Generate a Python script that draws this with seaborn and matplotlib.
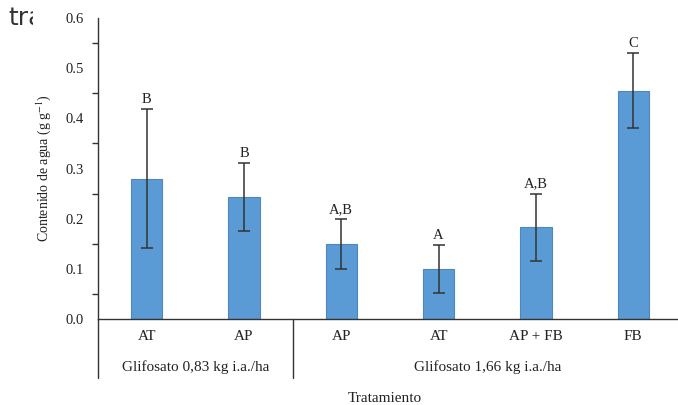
import matplotlib
matplotlib.use("Agg")
import matplotlib.pyplot as plt
import matplotlib.transforms as mtransforms
import numpy as np
import pandas as pd
import seaborn as sns

# --- data ---
tratamientos = ["AT", "AP", "AP", "AT", "AP + FB", "FB"]
grupos = ["Glifosato 0,83 kg i.a./ha", "Glifosato 1,66 kg i.a./ha"]
grupo_de_barra = [0, 0, 1, 1, 1, 1]
contenido_agua = [0.280, 0.243, 0.149, 0.099, 0.183, 0.455]
error_agua = [0.139, 0.068, 0.050, 0.048, 0.067, 0.075]
letras = ["B", "B", "A,B", "A", "A,B", "C"]

sns.set_theme(style="white")
plt.rcParams["font.family"] = ["Liberation Serif", "DejaVu Serif"]
plt.rcParams["mathtext.fontset"] = "stix"

txt = "#222222"
fig = plt.figure(figsize=(6.78, 4.05), dpi=100)
ax = fig.add_axes([98 / 678, 86 / 405, 584 / 678, 301 / 405])

df = pd.DataFrame({"pos": [str(i) for i in range(len(tratamientos))],
                   "valor": contenido_agua})
sns.barplot(data=df, x="pos", y="valor", color="#5B9BD5", saturation=1,
            width=0.32, edgecolor="#4F86BD", linewidth=0.8, ax=ax)

x = np.arange(len(tratamientos))
ax.errorbar(x, contenido_agua, yerr=error_agua, fmt="none", ecolor="#333333",
            elinewidth=1.1, capsize=4, capthick=1.1)
for xi, v, e, l in zip(x, contenido_agua, error_agua, letras):
    ax.text(xi, v + e + 0.006, l, ha="center", va="bottom", fontsize=10.5, color=txt)

ax.set_xlim(-0.5, len(tratamientos) - 0.5)
ax.set_ylim(0, 0.6)
ax.set_yticks(np.arange(0, 0.61, 0.1))
ax.set_yticklabels([f"{t:.1f}" for t in np.arange(0, 0.61, 0.1)], color=txt, fontsize=10.5)
ax.set_yticks(np.arange(0.05, 0.6, 0.1), minor=True)
ax.tick_params(axis="y", which="major", direction="inout", length=8, width=1, color="#333333", pad=6)
ax.tick_params(axis="y", which="minor", direction="out", length=4, width=1, color="#333333", left=True)
ax.set_xticks([])
ax.set_xlabel("")
ax.set_ylabel(r"Contenido de agua (g g$^{-1}$)", fontsize=10, color=txt, labelpad=9)

for s in ["top", "right"]:
    ax.spines[s].set_visible(False)
for s in ["left", "bottom"]:
    ax.spines[s].set_color("#333333")
    ax.spines[s].set_linewidth(1)

# two-level category axis
trans = mtransforms.blended_transform_factory(ax.transData, ax.transAxes)
px = 1 / 301
for xi, t in zip(x, tratamientos):
    ax.text(xi, -11 * px, t, transform=trans, ha="center", va="top", fontsize=11, color=txt)
for g, nombre in enumerate(grupos):
    idx = [i for i, gb in enumerate(grupo_de_barra) if gb == g]
    ax.text(np.mean(idx), -41 * px, nombre, transform=trans, ha="center", va="top",
            fontsize=11, color=txt)
for sep in [-0.5, 1.5]:
    ax.plot([sep, sep], [0, -59 * px], transform=trans, color="#333333", lw=1, clip_on=False)

fig.text(385 / 678, 1 - 398 / 405, "Tratamiento", ha="center", va="center", fontsize=11, color=txt)

# cut-off text fragment at the top-left corner
frag = fig.text(8 / 678, 1 - 25 / 405, "tra", ha="left", va="baseline", fontsize=18,
                color="#333333", family=["DejaVu Sans"])
frag.set_clip_box(mtransforms.Bbox([[0, 300], [33, 405]]))
frag.set_clip_on(True)

fig.savefig("out.png", dpi=100)
